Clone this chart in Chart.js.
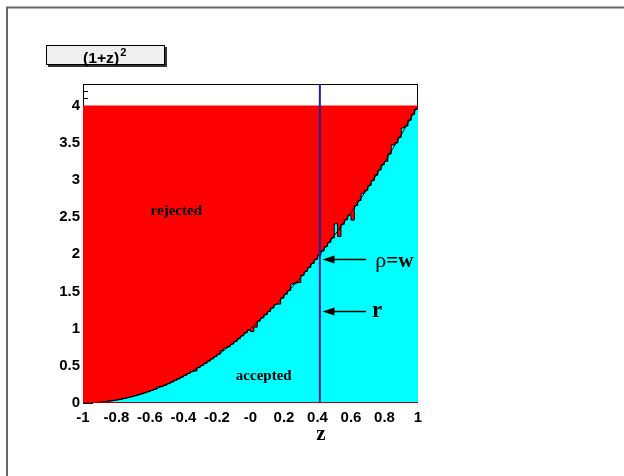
<!DOCTYPE html>
<html>
<head>
<meta charset="utf-8">
<script src="https://cdn.jsdelivr.net/npm/chart.js@4/dist/chart.umd.min.js"></script>
<style>
  html, body { margin: 0; padding: 0; background: #fff; }
  #wrap { width: 624px; height: 476px; position: relative; }
</style>
</head>
<body>
<div id="wrap"><canvas id="c" width="624" height="476"></canvas></div>
<script>
// Sampled histogram of (1+z)^2, 100 equal bins on [-1, 1]
const HIST_VALUES = [
  0.000, 0.001, 0.003, 0.005, 0.008, 0.012, 0.017, 0.023, 0.029, 0.036,
  0.044, 0.053, 0.063, 0.073, 0.084, 0.096, 0.109, 0.123, 0.137, 0.152,
  0.168, 0.185, 0.215, 0.221, 0.240, 0.260, 0.281, 0.303, 0.325, 0.348,
  0.372, 0.397, 0.423, 0.430, 0.476, 0.504, 0.533, 0.563, 0.593, 0.624,
  0.656, 0.705, 0.740, 0.757, 0.792, 0.828, 0.865, 0.903, 0.941, 0.980,
  0.960, 1.020, 1.103, 1.145, 1.188, 1.232, 1.277, 1.323, 1.330, 1.410,
  1.464, 1.513, 1.600, 1.613, 1.620, 1.716, 1.769, 1.823, 1.877, 1.932,
  1.988, 2.045, 2.103, 2.161, 2.220, 2.410, 2.240, 2.403, 2.465, 2.528,
  2.460, 2.657, 2.723, 2.820, 2.856, 2.924, 2.993, 3.063, 3.133, 3.204,
  3.250, 3.349, 3.470, 3.497, 3.572, 3.700, 3.725, 3.803, 3.881, 3.950
];

// Reference curve (1+z)^2 sampled every 0.05 in z
const CURVE_VALUES = [
  0.0000, 0.0025, 0.0100, 0.0225, 0.0400, 0.0625, 0.0900, 0.1225, 0.1600, 0.2025,
  0.2500, 0.3025, 0.3600, 0.4225, 0.4900, 0.5625, 0.6400, 0.7225, 0.8100, 0.9025,
  1.0000, 1.1025, 1.2100, 1.3225, 1.4400, 1.5625, 1.6900, 1.8225, 1.9600, 2.1025,
  2.2500, 2.4025, 2.5600, 2.7225, 2.8900, 3.0625, 3.2400, 3.4225, 3.6100, 3.8025,
  4.0000
];

const X_TICKS = [-1, -0.8, -0.6, -0.4, -0.2, 0, 0.2, 0.4, 0.6, 0.8, 1];
const X_TICK_LABELS = ['-1', '-0.8', '-0.6', '-0.4', '-0.2', '-0', '0.2', '0.4', '0.6', '0.8', '1'];
const Y_TICKS = [0, 0.5, 1, 1.5, 2, 2.5, 3, 3.5, 4];
const Y_TICK_LABELS = ['0', '0.5', '1', '1.5', '2', '2.5', '3', '3.5', '4'];

const Z_MIN = -1, Z_MAX = 1;
const Y_MAX = 4.29;
const BOX_LEVEL = 4;          // upper bound of the sampling box
const CUT_Z = 0.4142;         // z where (1+z)^2 = 2

// bin low edges, plus a closing point at the upper edge
const nBins = HIST_VALUES.length;
const binW = (Z_MAX - Z_MIN) / nBins;
const histPoints = HIST_VALUES.map((v, i) => ({ x: Z_MIN + i * binW, y: v }));
histPoints.push({ x: Z_MAX, y: HIST_VALUES[nBins - 1] });

const curveStep = (Z_MAX - Z_MIN) / (CURVE_VALUES.length - 1);
const curvePoints = CURVE_VALUES.map((v, i) => ({ x: Z_MIN + i * curveStep, y: v }));

const SANS = '"Liberation Sans", Arial, Helvetica, sans-serif';
const SERIF = '"Liberation Serif", "Times New Roman", serif';

const decorations = {
  id: 'decorations',
  beforeDatasetsDraw(chart) {
    const { ctx, chartArea: a, scales: { x, y } } = chart;
    ctx.save();
    // frame
    ctx.strokeStyle = '#000';
    ctx.lineWidth = 1;
    ctx.strokeRect(a.left + 0.5, a.top + 0.5, a.right - a.left - 1, a.bottom - a.top - 1);
    // inward ticks on the y axis
    ctx.beginPath();
    for (let k = 0; k * 0.1 <= Y_MAX + 1e-9; k++) {
      const py = Math.round(y.getPixelForValue(k * 0.1)) + 0.5;
      const len = (k % 5 === 0) ? 10 : 5;
      ctx.moveTo(a.left, py);
      ctx.lineTo(a.left + len, py);
    }
    ctx.stroke();
    ctx.restore();
  },
  afterDatasetsDraw(chart) {
    const { ctx, chartArea: a, scales: { x, y } } = chart;
    ctx.save();

    // lower edge of the sampling box
    ctx.strokeStyle = '#b00000';
    ctx.lineWidth = 1;
    ctx.beginPath();
    ctx.moveTo(a.left, a.bottom - 0.5);
    ctx.lineTo(a.right, a.bottom - 0.5);
    ctx.stroke();

    // arrows pointing at the cut line
    const arrow = (zTail, zTip, v) => {
      const x0 = x.getPixelForValue(zTail), x1 = x.getPixelForValue(zTip);
      const py = Math.round(y.getPixelForValue(v)) + 0.5;
      ctx.strokeStyle = '#000';
      ctx.fillStyle = '#000';
      ctx.lineWidth = 1.5;
      ctx.beginPath();
      ctx.moveTo(x0, py);
      ctx.lineTo(x1 + 10, py);
      ctx.stroke();
      ctx.beginPath();
      ctx.moveTo(x1, py);
      ctx.lineTo(x1 + 12, py - 4);
      ctx.lineTo(x1 + 12, py + 4);
      ctx.closePath();
      ctx.fill();
    };
    arrow(0.69, 0.43, 1.94);
    arrow(0.69, 0.43, 1.24);

    ctx.fillStyle = '#000';
    ctx.textBaseline = 'alphabetic';

    // region labels
    ctx.font = 'bold 15px ' + SERIF;
    ctx.textAlign = 'center';
    ctx.fillText('rejected', x.getPixelForValue(-0.443), y.getPixelForValue(2.53));
    ctx.fillText('accepted', x.getPixelForValue(0.079), y.getPixelForValue(0.31));

    // arrow labels
    ctx.textAlign = 'left';
    let lx = x.getPixelForValue(0.745);
    const ly = y.getPixelForValue(1.833);
    ctx.font = '22px ' + SERIF;
    ctx.fillText('ρ', lx, ly);
    lx += ctx.measureText('ρ').width;
    ctx.font = 'bold 21px ' + SERIF;
    ctx.fillText('=w', lx, ly);
    ctx.font = 'bold 23px ' + SERIF;
    ctx.fillText('r', x.getPixelForValue(0.725), y.getPixelForValue(1.157));

    // axis title
    ctx.font = 'bold 21px ' + SERIF;
    ctx.textAlign = 'center';
    ctx.fillText('z', 321, 440);

    // title box with shadow
    const bx = 46, by = 45, bw = 119, bh = 20;
    ctx.fillStyle = '#333';
    ctx.fillRect(bx + 2, by + 2, bw, bh);
    ctx.fillStyle = '#f0f0f0';
    ctx.fillRect(bx, by, bw, bh);
    ctx.strokeStyle = '#000';
    ctx.lineWidth = 1;
    ctx.strokeRect(bx + 0.5, by + 0.5, bw - 1, bh - 1);
    ctx.fillStyle = '#000';
    ctx.save();
    ctx.translate(83, 63);
    ctx.scale(1.12, 1);
    ctx.textAlign = 'left';
    ctx.font = 'bold 14px ' + SANS;
    ctx.fillText('(1+z)', 0, 0);
    const tw = ctx.measureText('(1+z)').width;
    ctx.font = 'bold 10px ' + SANS;
    ctx.fillText('2', tw + 1, -7);
    ctx.restore();

    // canvas border
    ctx.strokeStyle = '#666';
    ctx.lineWidth = 2;
    ctx.beginPath();
    ctx.moveTo(7, 476);
    ctx.lineTo(7, 7.5);
    ctx.lineTo(624, 7.5);
    ctx.stroke();

    ctx.restore();
  }
};

new Chart(document.getElementById('c'), {
  type: 'line',
  data: {
    datasets: [
      {
        label: 'cut',
        data: [{ x: CUT_Z, y: 0 }, { x: CUT_Z, y: Y_MAX }],
        borderColor: '#1f1fa0',
        borderWidth: 2,
        pointRadius: 0,
        fill: false,
        order: 0
      },
      {
        label: 'f(z)',
        data: curvePoints,
        borderColor: '#000',
        borderWidth: 1,
        pointRadius: 0,
        cubicInterpolationMode: 'monotone',
        fill: false,
        order: 1
      },
      {
        label: 'accepted',
        data: histPoints,
        stepped: 'before',
        borderColor: '#000',
        borderWidth: 1,
        backgroundColor: '#00ffff',
        pointRadius: 0,
        fill: 'origin',
        order: 2
      },
      {
        label: 'box',
        data: [{ x: Z_MIN, y: BOX_LEVEL }, { x: Z_MAX, y: BOX_LEVEL }],
        borderWidth: 0,
        borderColor: 'rgba(0,0,0,0)',
        backgroundColor: '#ff0000',
        pointRadius: 0,
        fill: 'origin',
        order: 3
      }
    ]
  },
  options: {
    responsive: false,
    animation: false,
    events: [],
    layout: { padding: { left: 0, top: 84, right: 206, bottom: 0 } },
    plugins: { legend: { display: false }, tooltip: { enabled: false }, title: { display: false } },
    scales: {
      x: {
        type: 'linear',
        min: Z_MIN,
        max: Z_MAX,
        grid: { display: false, drawTicks: false },
        border: { display: false },
        afterBuildTicks: s => { s.ticks = X_TICKS.map(v => ({ value: v })); },
        afterFit: s => { s.height = 73; },
        ticks: {
          padding: 6,
          color: '#000',
          maxRotation: 0,
          autoSkip: false,
          font: { family: SANS, weight: 'bold', size: 15 },
          callback: (v, i) => X_TICK_LABELS[i]
        }
      },
      y: {
        type: 'linear',
        min: 0,
        max: Y_MAX,
        grid: { display: false, drawTicks: false },
        border: { display: false },
        afterBuildTicks: s => { s.ticks = Y_TICKS.map(v => ({ value: v })); },
        afterFit: s => { s.width = 83; },
        ticks: {
          padding: 3,
          color: '#000',
          autoSkip: false,
          font: { family: SANS, weight: 'bold', size: 15 },
          callback: (v, i) => Y_TICK_LABELS[i]
        }
      }
    }
  },
  plugins: [decorations]
});
</script>
</body>
</html>
